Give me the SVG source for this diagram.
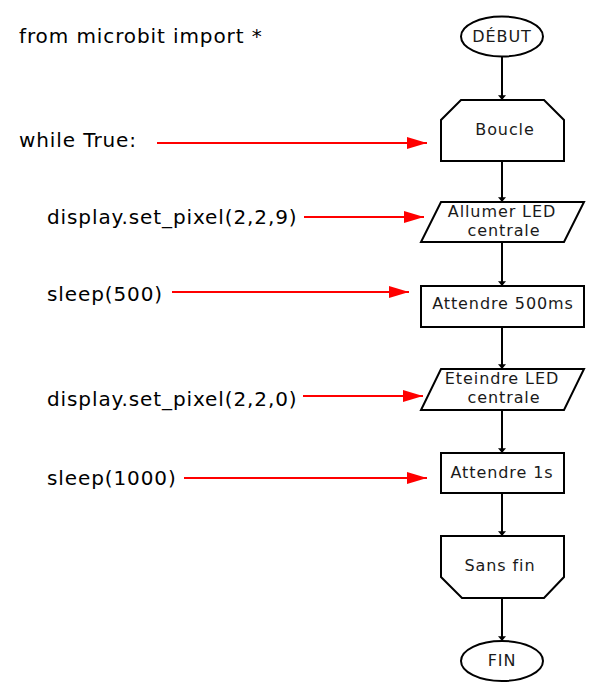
<svg xmlns="http://www.w3.org/2000/svg" width="600" height="700" viewBox="0 0 600 700">
<style>
.shape{fill:#fff;stroke:#000;stroke-width:2}
.lbl{font-family:"DejaVu Sans",sans-serif;font-size:16px;letter-spacing:0.9px;fill:#1a1a1a;text-anchor:middle}
.code{font-family:"DejaVu Sans",sans-serif;font-size:20px;letter-spacing:0.9px;fill:#000}
.flow{stroke:#000;stroke-width:2;fill:none;marker-end:url(#ah)}
.red{stroke:#f00;stroke-width:2;fill:none;marker-end:url(#rh)}
</style>
<defs>
<marker id="ah" viewBox="0 0 6 10" refX="6" refY="5" markerWidth="3" markerHeight="4" orient="auto" markerUnits="strokeWidth"><path d="M0,0 L6,5 L0,10 z" fill="#000"/></marker>
<marker id="rh" viewBox="0 0 20 12" refX="20" refY="6" markerWidth="10" markerHeight="6" orient="auto" markerUnits="strokeWidth"><path d="M0,0 L20,6 L0,12 z" fill="#f00"/></marker>
</defs>
<rect width="600" height="700" fill="#fff"/>
<g id="code">
<text class="code" x="19" y="43">from microbit import *</text>
<text class="code" x="19" y="147">while True:</text>
<text class="code" x="47" y="224">display.set_pixel(2,2,9)</text>
<text class="code" x="47" y="301">sleep(500)</text>
<text class="code" x="47" y="406">display.set_pixel(2,2,0)</text>
<text class="code" x="47" y="485">sleep(1000)</text>
</g>
<g id="connectors">
<line class="flow" x1="502" y1="57" x2="502" y2="100"/>
<line class="flow" x1="502" y1="161" x2="502" y2="202"/>
<line class="flow" x1="502" y1="242" x2="502" y2="286"/>
<line class="flow" x1="502" y1="327" x2="502" y2="369"/>
<line class="flow" x1="502" y1="410" x2="502" y2="453"/>
<line class="flow" x1="502" y1="493" x2="502" y2="536"/>
<line class="flow" x1="502" y1="598" x2="502" y2="641"/>
<line class="red" x1="157" y1="143" x2="427" y2="143"/>
<line class="red" x1="304" y1="217" x2="424" y2="217"/>
<line class="red" x1="172" y1="292" x2="409" y2="292"/>
<line class="red" x1="303" y1="396" x2="423" y2="396"/>
<line class="red" x1="184" y1="478" x2="427" y2="478"/>
</g>
<g id="debut">
<ellipse class="shape" cx="502" cy="36.5" rx="41" ry="20"/>
<text class="lbl" x="502" y="42">DÉBUT</text>
</g>
<g id="boucle">
<path class="shape" d="M461,100 L544,100 L564,120 L564,161 L441,161 L441,120 Z"/>
<text class="lbl" x="505" y="135">Boucle</text>
</g>
<g id="allumer">
<path class="shape" d="M441,202 L584,202 L564,242 L421,242 Z"/>
<text class="lbl" x="502" y="217">Allumer LED</text>
<text class="lbl" x="504" y="236">centrale</text>
</g>
<g id="attendre500">
<rect class="shape" x="421" y="286" width="163" height="41"/>
<text class="lbl" x="503" y="309">Attendre 500ms</text>
</g>
<g id="eteindre">
<path class="shape" d="M441,369 L584,369 L564,410 L421,410 Z"/>
<text class="lbl" x="502" y="384">Eteindre LED</text>
<text class="lbl" x="504" y="403">centrale</text>
</g>
<g id="attendre1s">
<rect class="shape" x="441" y="453" width="123" height="40"/>
<text class="lbl" x="502" y="478">Attendre 1s</text>
</g>
<g id="sansfin">
<path class="shape" d="M441,536 L564,536 L564,577 L544,598 L462,598 L441,577 Z"/>
<text class="lbl" x="500" y="571">Sans fin</text>
</g>
<g id="fin">
<ellipse class="shape" cx="502" cy="661" rx="41" ry="20"/>
<text class="lbl" x="502" y="666">FIN</text>
</g>
</svg>
